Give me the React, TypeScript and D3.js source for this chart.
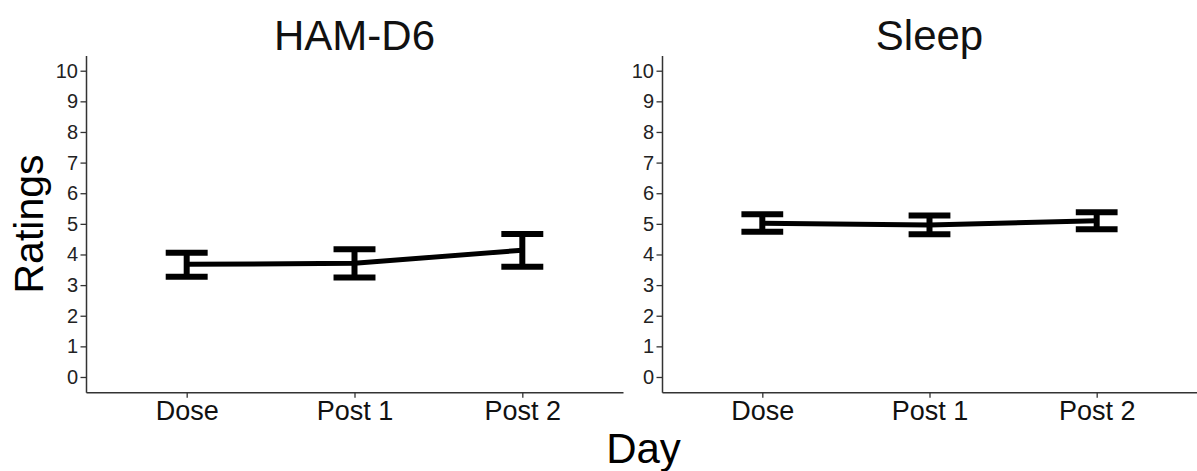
import React, { useEffect, useRef } from "react";
import * as d3 from "d3";

// categories along the x axis
const days = ["Dose", "Post 1", "Post 2"];
const yTicks = [0, 1, 2, 3, 4, 5, 6, 7, 8, 9, 10];

// HAM-D6 ratings: mean and error bar limits
const hamMean = [3.68, 3.71, 4.14];
const hamLow = [3.27, 3.25, 3.6];
const hamHigh = [4.06, 4.17, 4.67];

// Sleep ratings: mean and error bar limits
const sleepMean = [5.02, 4.96, 5.1];
const sleepLow = [4.74, 4.66, 4.82];
const sleepHigh = [5.31, 5.27, 5.38];

const WIDTH = 1197;
const HEIGHT = 471;
const FONT = "'Liberation Sans', Arial, Helvetica, sans-serif";

const panels = [
  { title: "HAM-D6", left: 86, right: 623, mean: hamMean, low: hamLow, high: hamHigh },
  { title: "Sleep", left: 662, right: 1197, mean: sleepMean, low: sleepLow, high: sleepHigh },
];

export default function App() {
  const svgRef = useRef<SVGSVGElement>(null);

  useEffect(() => {
    const svg = d3.select(svgRef.current);
    svg.selectAll("*").remove();

    const y = d3.scaleLinear().domain([-0.5, 10.5]).range([392.3, 55.4]);

    panels.forEach((p) => {
      const x = d3.scalePoint<string>().domain(days).range([p.left, p.right]).padding(0.6);
      const g = svg.append("g");

      // y axis
      const ya = g
        .append("g")
        .attr("transform", `translate(${p.left},0)`)
        .call(d3.axisLeft(y).tickValues(yTicks).tickSize(5.5).tickSizeOuter(0).tickPadding(2.5));
      ya.select(".domain").attr("stroke", "#333").attr("stroke-width", 1.5);
      ya.selectAll(".tick line").attr("stroke", "#333").attr("stroke-width", 1.3);
      ya.selectAll(".tick text")
        .attr("font-family", FONT)
        .attr("font-size", 20)
        .attr("fill", "#222");

      // x axis
      const xa = g
        .append("g")
        .attr("transform", `translate(0,${y(-0.5)})`)
        .call(d3.axisBottom(x).tickSize(5.5).tickSizeOuter(0).tickPadding(3));
      xa.select(".domain").attr("stroke", "#333").attr("stroke-width", 1.5);
      xa.selectAll(".tick line").attr("stroke", "#333").attr("stroke-width", 1.3);
      xa.selectAll(".tick text")
        .attr("font-family", FONT)
        .attr("font-size", 27)
        .attr("fill", "#111");

      // mean line
      const pts = days.map((d, i) => [x(d) as number, y(p.mean[i])] as [number, number]);
      g.append("path")
        .datum(pts)
        .attr("fill", "none")
        .attr("stroke", "#000")
        .attr("stroke-width", 5)
        .attr("stroke-linejoin", "round")
        .attr("d", d3.line());

      // error bars
      const half = x.step() * 0.125;
      days.forEach((d, i) => {
        const cx = x(d) as number;
        const eb = g.append("g").attr("stroke", "#000").attr("stroke-width", 6).attr("fill", "none");
        eb.append("line").attr("x1", cx).attr("x2", cx).attr("y1", y(p.low[i])).attr("y2", y(p.high[i]));
        eb.append("line").attr("x1", cx - half).attr("x2", cx + half).attr("y1", y(p.low[i])).attr("y2", y(p.low[i]));
        eb.append("line").attr("x1", cx - half).attr("x2", cx + half).attr("y1", y(p.high[i])).attr("y2", y(p.high[i]));
      });

      // panel title
      g.append("text")
        .attr("x", (p.left + p.right) / 2)
        .attr("y", 50)
        .attr("text-anchor", "middle")
        .attr("font-family", FONT)
        .attr("font-size", 42)
        .attr("fill", "#111")
        .text(p.title);
    });

    svg
      .append("text")
      .attr("transform", `translate(43,224) rotate(-90)`)
      .attr("text-anchor", "middle")
      .attr("font-family", FONT)
      .attr("font-size", 41)
      .attr("fill", "#000")
      .text("Ratings");

    svg
      .append("text")
      .attr("x", 643.5)
      .attr("y", 463)
      .attr("text-anchor", "middle")
      .attr("font-family", FONT)
      .attr("font-size", 42)
      .attr("fill", "#000")
      .text("Day");
  }, []);

  return (
    <svg
      ref={svgRef}
      width={WIDTH}
      height={HEIGHT}
      style={{ position: "absolute", left: 0, top: 0, background: "#fff" }}
    />
  );
}
